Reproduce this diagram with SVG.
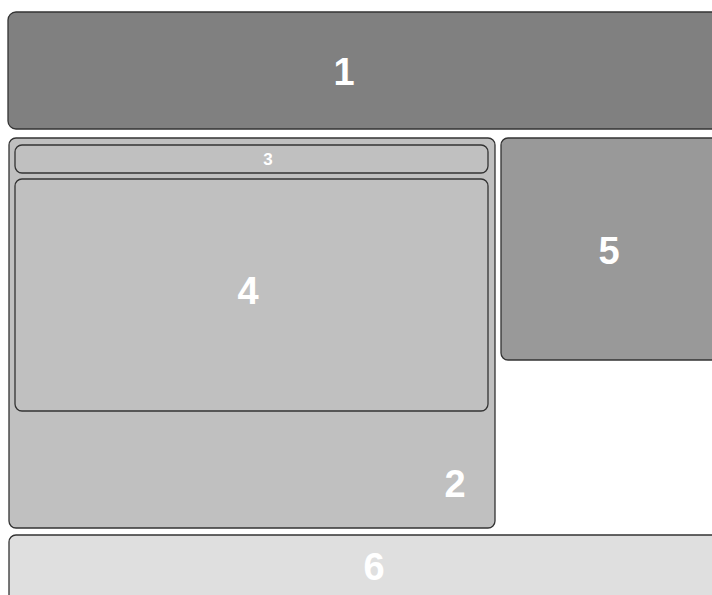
<svg xmlns="http://www.w3.org/2000/svg" width="712" height="595" viewBox="0 0 712 595">
<style>
.b{stroke:#333;stroke-width:1.3}
.t{font-family:"Liberation Sans",Arial,sans-serif;font-weight:bold;fill:#fff;text-anchor:middle;dominant-baseline:central}
.big{font-size:38px}
</style>
<rect width="712" height="595" fill="#fff"/>
<g id="n1"><rect class="b" x="8" y="12" width="720" height="117" rx="8" fill="#808080"/><text class="t big" x="344" y="72">1</text></g>
<g id="n2"><rect class="b" x="9" y="138" width="486" height="390" rx="7" fill="#c0c0c0"/><text class="t big" x="455" y="484">2</text></g>
<g id="n3"><rect class="b" x="15" y="145" width="473" height="28" rx="7" fill="#c0c0c0"/><text class="t" x="268" y="159" font-size="17">3</text></g>
<g id="n4"><rect class="b" x="15" y="179" width="473" height="232" rx="7" fill="#c0c0c0"/><text class="t big" x="248" y="291">4</text></g>
<g id="n5"><rect class="b" x="501" y="138" width="230" height="222" rx="7" fill="#999"/><text class="t big" x="609" y="251">5</text></g>
<g id="n6"><rect class="b" x="9" y="535" width="720" height="80" rx="7" fill="#dfdfdf"/><text class="t big" x="374" y="567">6</text></g>
<g id="connectors"/>
</svg>
